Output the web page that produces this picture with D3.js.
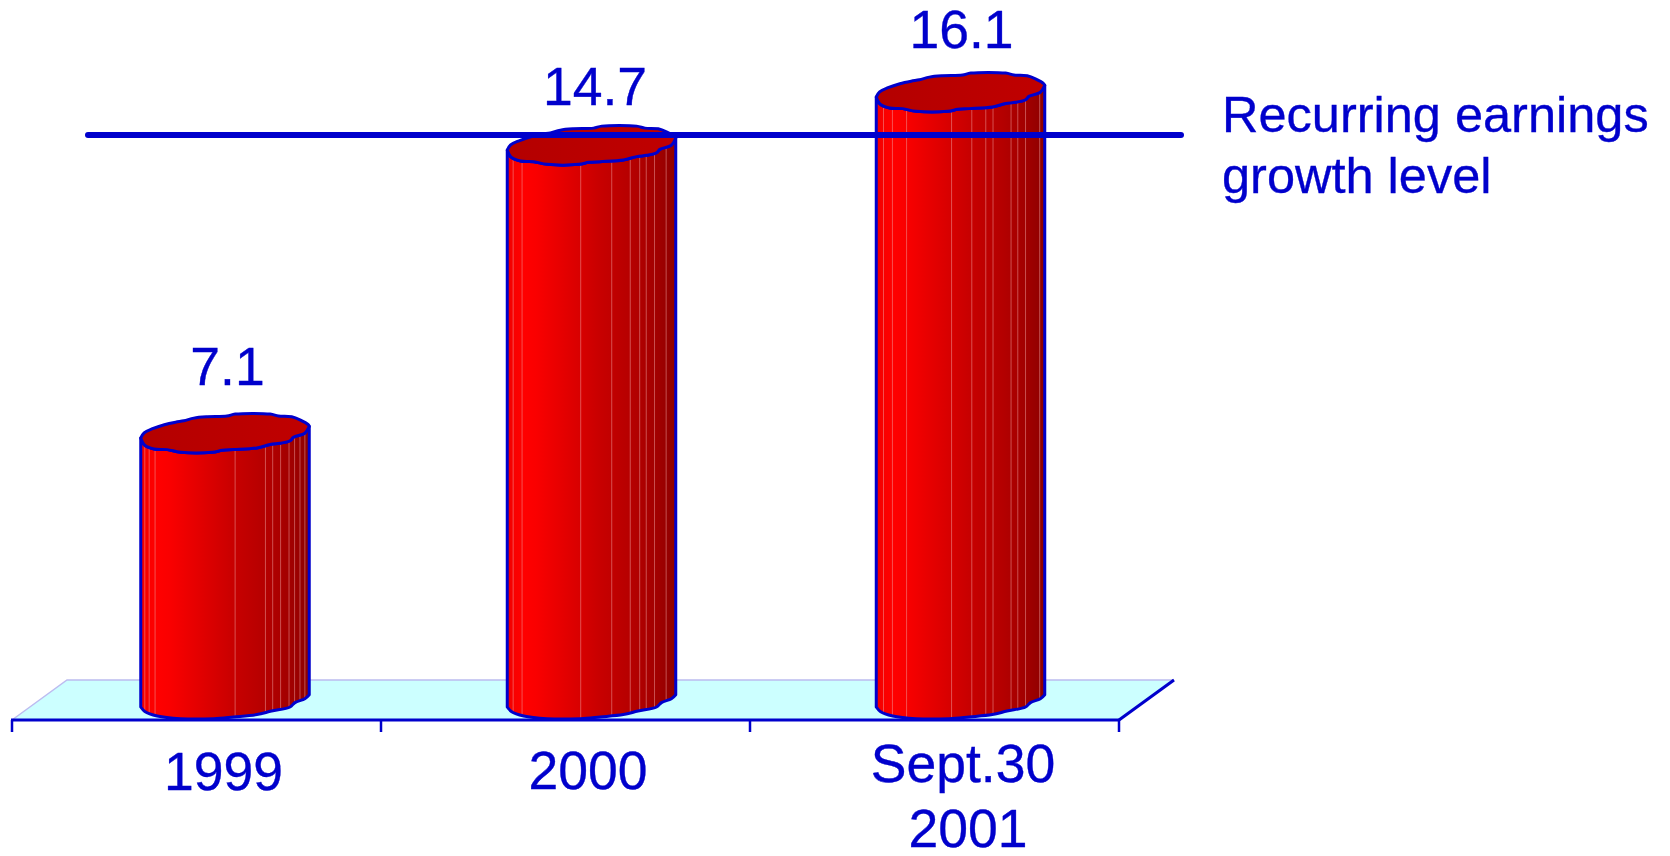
<!DOCTYPE html>
<html>
<head>
<meta charset="utf-8">
<script src="https://cdn.jsdelivr.net/npm/d3@7"></script>
<style>
  html, body { margin: 0; padding: 0; background: #fff; }
  svg { display: block; }
  text { font-family: "Liberation Sans", Arial, sans-serif; fill: #0000cc; stroke: #0000cc; stroke-width: 0.35px; }
</style>
</head>
<body>
<svg id="chart" width="1670" height="856"></svg>
<script>
// Chart values
const categories = ["1999", "2000", "Sept.30\n2001"];
const values = [7.1, 14.7, 16.1];
const valueLabels = ["7.1", "14.7", "16.1"];
const referenceLevel = 15.1;
const referenceLabel = ["Recurring earnings", "growth level"];

// Outline of one cylinder as fractions of its width, measured from the left rim point.
const rimUpper = [[0,0],[.02,-.03],[.07,-.055],[.14,-.079],[.207,-.094],[.256,-.102],[.315,-.118],[.394,-.126],[.512,-.13],[.561,-.142],[.768,-.142],[.817,-.13],[.896,-.126],[.945,-.108],[.994,-.079],[1,-.069]];
const rimLower = [[1,-.069],[.974,-.029],[.906,-.004],[.886,.016],[.827,.031],[.768,.039],[.689,.059],[.551,.069],[.484,.073],[.425,.085],[.236,.085],[.157,.069],[.079,.065],[.02,.039],[0,0]];
const baseProfile = [[0,0],[.024,.026],[.098,.053],[.236,.069],[.433,.069],[.551,.059],[.689,.045],[.776,.024],[.886,0],[.915,-.026],[.974,-.049],[1,-.073]];

// Thin pale seams between facets, as fractions of the cylinder width.
const seams = [
  [.024,.05,.085,.56,.74,.783,.83,.88,.913,.945,.974],
  [.035,.088,.436,.62,.73,.786,.825,.874,.943],
  [.043,.096,.18,.447,.567,.65,.693,.8,.84,.886,.97]
];

const sideStops = [[0,"#ee0000"],[.03,"#f80000"],[.1,"#ff0000"],[.17,"#fa0000"],[.4,"#dc0000"],[.55,"#c80000"],[.75,"#b40000"],[.9,"#a00000"],[1,"#8e0000"]];

// Placement relative to the band centre and the top of each cylinder.
const cylinderShift = [1, -1.5, -1.5];
const categoryShift = [[27], [22.5], [28.5, 33.5]];
const categoryBaseline = [[790], [788.5], [782, 847]];
const valueShift = [31, 29.5, 27];
const valueLift = [53, 45, 49];

const BLUE = "#0000cc";
const svg = d3.select("#chart");

const x = d3.scaleBand().domain(categories).range([12, 1119]);
const y = d3.scaleLinear().domain([0, 16.1]).range([707, 97]);
const depthX = 55, depthY = 40, floorY = 720;
const cylWidth = 168.5;
const cylLeft = (c, i) => x(c) + x.bandwidth() / 2 + depthX / 2 - cylWidth / 2 + cylinderShift[i];

const defs = svg.append("defs");
const sideGrad = defs.append("linearGradient").attr("id", "side");
sideGrad.selectAll("stop").data(sideStops).join("stop")
  .attr("offset", d => d[0]).attr("stop-color", d => d[1]);
const topGrad = defs.append("linearGradient").attr("id", "cap");
topGrad.append("stop").attr("offset", 0).attr("stop-color", "#b40000");
topGrad.append("stop").attr("offset", 1).attr("stop-color", "#c00000");

// Floor plane
const [x0, x1] = x.range();
svg.append("path")
  .attr("d", d3.line()([[x0, floorY], [x0 + depthX, floorY - depthY], [x1 + depthX, floorY - depthY], [x1, floorY]]) + "Z")
  .attr("fill", "#ccffff");
svg.append("path")
  .attr("d", d3.line()([[x0, floorY], [x0 + depthX, floorY - depthY], [x1 + depthX, floorY - depthY]]))
  .attr("fill", "none").attr("stroke", "#bcbcf0").attr("stroke-width", 1.5);
svg.append("line")
  .attr("x1", x1).attr("y1", floorY).attr("x2", x1 + depthX).attr("y2", floorY - depthY)
  .attr("stroke", BLUE).attr("stroke-width", 3);

// Category axis with ticks on the band boundaries
svg.append("line").attr("x1", x0 - 1).attr("x2", x1 + 1).attr("y1", floorY).attr("y2", floorY)
  .attr("stroke", BLUE).attr("stroke-width", 3);
const tickXs = categories.map(c => x(c)).concat([x1]);
svg.selectAll(".tick").data(tickXs).join("line").attr("class", "tick")
  .attr("x1", d => d).attr("x2", d => d).attr("y1", floorY).attr("y2", floorY + 12)
  .attr("stroke", BLUE).attr("stroke-width", 2.5);

// Cylinders
const curve = d3.line().curve(d3.curveCatmullRom.alpha(0.5));
categories.forEach((c, i) => {
  const left = cylLeft(c, i), top = y(values[i]), base = y(0), w = cylWidth;
  const px = (pts, yy) => pts.map(p => [left + p[0] * w, yy + p[1] * w]);
  const lower = px(rimLower, top), upper = px(rimUpper, top), bottom = px(baseProfile, base);

  // Wall: from the left rim point along the near rim, down the right side, back along the base
  const wallPts = lower.slice().reverse();
  const wall = curve(wallPts) + "L" + bottom[bottom.length - 1].join(",") +
    curve(bottom.slice().reverse()).replace(/^M/, "L") + "Z";
  const g = svg.append("g");
  const clipId = "wall" + i;
  defs.append("clipPath").attr("id", clipId).append("path").attr("d", wall);

  g.append("path").attr("d", wall).attr("fill", "url(#side)");
  g.append("g").attr("clip-path", `url(#${clipId})`)
    .selectAll("line").data(seams[i]).join("line")
    .attr("x1", d => left + d * w).attr("x2", d => left + d * w)
    .attr("y1", top - 40).attr("y2", base + 40)
    .attr("stroke", "#f0a0a0").attr("stroke-opacity", 0.5).attr("stroke-width", 1);
  g.append("path").attr("d", wall).attr("fill", "none")
    .attr("stroke", BLUE).attr("stroke-width", 3).attr("stroke-linejoin", "round");

  // Cap
  const cap = curve(upper) + curve(lower).replace(/^M/, "L") + "Z";
  g.append("path").attr("d", cap).attr("fill", "url(#cap)")
    .attr("stroke", BLUE).attr("stroke-width", 3).attr("stroke-linejoin", "round");
});

// Reference level drawn across the cylinders
svg.append("line")
  .attr("x1", 88).attr("x2", 1181)
  .attr("y1", y(referenceLevel)).attr("y2", y(referenceLevel))
  .attr("stroke", BLUE).attr("stroke-width", 6).attr("stroke-linecap", "round");

const FONT = 53.5;

// Value labels
svg.selectAll(".val").data(categories).join("text").attr("class", "val")
  .attr("x", (c, i) => x(c) + x.bandwidth() / 2 + valueShift[i])
  .attr("y", (c, i) => y(values[i]) - valueLift[i])
  .attr("text-anchor", "middle").attr("font-size", FONT)
  .text((c, i) => valueLabels[i]);

// Category labels
svg.selectAll(".cat").data(categories).join("text").attr("class", "cat")
  .attr("text-anchor", "middle").attr("font-size", FONT)
  .each(function (c, i) {
    const t = d3.select(this);
    c.split("\n").forEach((line, j) => {
      t.append("tspan")
        .attr("x", x(c) + x.bandwidth() / 2 + categoryShift[i][j])
        .attr("y", categoryBaseline[i][j])
        .text(line);
    });
  });

// Reference label
svg.append("text").attr("font-size", 50.5)
  .selectAll("tspan").data(referenceLabel).join("tspan")
  .attr("x", 1222).attr("y", (d, j) => 132 + j * 60.5)
  .text(d => d);
</script>
</body>
</html>
